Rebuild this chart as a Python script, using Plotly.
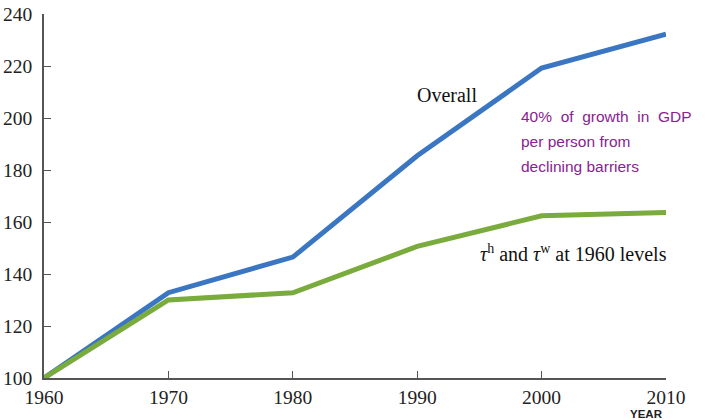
import plotly.graph_objects as go

years = [1960, 1970, 1980, 1990, 2000, 2010]
overall = [100, 132.8, 146.5, 185.5, 219.2, 232.2]
fixed_barriers = [100, 130.0, 132.8, 150.6, 162.4, 163.7]
y_ticks = [100, 120, 140, 160, 180, 200, 220, 240]
x_ticks = [1960, 1970, 1980, 1990, 2000, 2010]
note_lines = ["40%  of  growth  in  GDP", "per person from", "declining barriers"]

fig = go.Figure()
fig.add_trace(go.Scatter(x=years, y=overall, mode="lines",
                         line=dict(color="#3a76c2", width=5), showlegend=False))
fig.add_trace(go.Scatter(x=years, y=fixed_barriers, mode="lines",
                         line=dict(color="#7aab3d", width=5), showlegend=False))

serif = "Liberation Serif, Times New Roman, serif"
sans = "Liberation Sans, Arial, sans-serif"
axis_common = dict(showgrid=False, zeroline=False, showline=True, automargin=False,
                   linecolor="#555555", linewidth=1.5, ticks="inside",
                   tickcolor="#555555", ticklen=7, tickwidth=1.2,
                   tickfont=dict(family=serif, size=19.5, color="#222222"))

fig.update_xaxes(range=[1960, 2010], tickvals=x_ticks, ticktext=[str(v) for v in x_ticks],
                 ticklabelstandoff=1, **axis_common)
fig.update_yaxes(range=[100, 240], tickvals=y_ticks, ticktext=[str(v) for v in y_ticks],
                 ticklabelstandoff=6, **axis_common)

fig.add_annotation(x=1992.4, y=208.8, text="Overall", showarrow=False,
                   font=dict(family=serif, size=20, color="#111111"))
for i, line in enumerate(note_lines):
    fig.add_annotation(x=1998.2, y=200.4 - 9.6 * i, xanchor="left", text=line,
                       showarrow=False, align="left",
                       font=dict(family=sans, size=15.5, color="#8a2290"))
fig.add_annotation(x=2002.6, y=148, text="<i>τ</i><sup>h</sup> and <i>τ</i><sup>w</sup> at 1960 levels",
                   showarrow=False,
                   font=dict(family=serif, size=20, color="#111111"))
fig.add_annotation(x=2008.4, y=100, yref="y", yshift=-36, text="<b>YEAR</b>", showarrow=False,
                   font=dict(family=sans, size=11.5, color="#222222"))

fig.update_layout(width=708, height=420, margin=dict(l=44, r=42, t=14, b=42, autoexpand=False),
                  plot_bgcolor="white", paper_bgcolor="white")
fig.write_html("out.html", config={"displayModeBar": False},
               post_script="document.body.style.margin='0';")
